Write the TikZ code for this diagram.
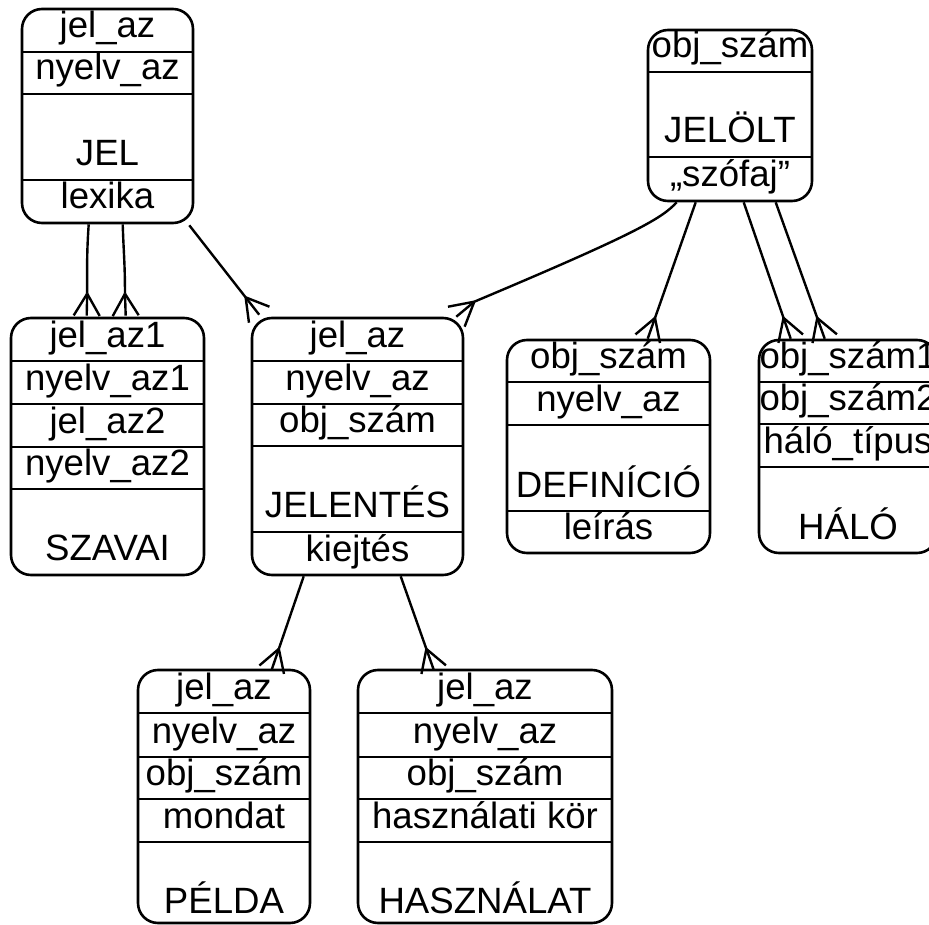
\documentclass[tikz,border=0pt]{standalone}
\usepackage{fontspec}
\setmainfont{Liberation Sans}
\usetikzlibrary{calc}
\tikzset{
  erbox/.style={draw, rounded corners=20pt, line width=2.6pt, inner sep=0pt},
  sepline/.style={line width=2.4pt},
  conn/.style={line width=2.4pt},
  lbl/.style={anchor=base, inner sep=0pt, font=\fontsize{36.6}{40}\selectfont},
}
\newcommand\crowfoot[2]{%
  \draw[conn] (#1) -- (#2);
  \draw[conn] (#1) -- ($(#2)!13pt!90:(#1)$);
  \draw[conn] (#1) -- ($(#2)!13pt!-90:(#1)$);
}
\begin{document}
\begin{tikzpicture}[x=1pt,y=-1pt]
\useasboundingbox (0,0) rectangle (929,925);

% ---------- JEL ----------
\node[erbox, minimum width=171, minimum height=214] (jel) at (107.5,116) {};
\draw[sepline] (22,52) -- (193,52);
\draw[sepline] (22,94) -- (193,94);
\draw[sepline] (22,180) -- (193,180);
\node[lbl] (jel1) at (107.5,38) {jel\_az};
\node[lbl] (jel2) at (107.5,80) {nyelv\_az};
\node[lbl] (jel3) at (107.5,166) {JEL};
\node[lbl] (jel4) at (107.5,209) {lexika};

% ---------- SZAVAI ----------
\node[erbox, minimum width=193, minimum height=257] (szavai) at (107.5,446.5) {};
\draw[sepline] (11,361) -- (204,361);
\draw[sepline] (11,404) -- (204,404);
\draw[sepline] (11,447) -- (204,447);
\draw[sepline] (11,489) -- (204,489);
\node[lbl] (sz1) at (107.5,347) {jel\_az1};
\node[lbl] (sz2) at (107.5,390) {nyelv\_az1};
\node[lbl] (sz3) at (107.5,433) {jel\_az2};
\node[lbl] (sz4) at (107.5,475) {nyelv\_az2};
\node[lbl] (sz5) at (107.5,560) {SZAVAI};

% ---------- JELENTÉS ----------
\node[erbox, minimum width=211, minimum height=257] (jelentes) at (357.5,446.5) {};
\draw[sepline] (252,361) -- (463,361);
\draw[sepline] (252,404) -- (463,404);
\draw[sepline] (252,446) -- (463,446);
\draw[sepline] (252,532) -- (463,532);
\node[lbl] (je1) at (357.5,347) {jel\_az};
\node[lbl] (je2) at (357.5,390) {nyelv\_az};
\node[lbl] (je3) at (357.5,432) {obj\_szám};
\node[lbl] (je4) at (357.5,517) {JELENTÉS};
\node[lbl] (je5) at (357.5,561) {kiejtés};

% ---------- JELÖLT ----------
\node[erbox, minimum width=164, minimum height=171] (jelolt) at (730,115.5) {};
\draw[sepline] (648,72) -- (812,72);
\draw[sepline] (648,157) -- (812,157);
\node[lbl] (jo1) at (730,58) {obj\_szám};
\node[lbl] (jo2) at (730,143) {JELÖLT};
\node[lbl] (jo3) at (730,187) {„szófaj”};

% ---------- DEFINÍCIÓ ----------
\node[erbox, minimum width=203, minimum height=213] (definicio) at (608.5,446.5) {};
\draw[sepline] (507,382) -- (710,382);
\draw[sepline] (507,425) -- (710,425);
\draw[sepline] (507,511) -- (710,511);
\node[lbl] (de1) at (608.5,368) {obj\_szám};
\node[lbl] (de2) at (608.5,411) {nyelv\_az};
\node[lbl] (de3) at (608.5,497) {DEFINÍCIÓ};
\node[lbl] (de4) at (608.5,539) {leírás};

% ---------- HÁLÓ ----------
\node[erbox, minimum width=178, minimum height=213] (halo) at (848,446.5) {};
\draw[sepline] (759,382) -- (937,382);
\draw[sepline] (759,424) -- (937,424);
\draw[sepline] (759,467) -- (937,467);
\node[lbl] (ha1) at (848,368) {obj\_szám1};
\node[lbl] (ha2) at (848,410) {obj\_szám2};
\node[lbl] (ha3) at (848,453) {háló\_típus};
\node[lbl] (ha4) at (848,539) {HÁLÓ};

% ---------- PÉLDA ----------
\node[erbox, minimum width=172, minimum height=253] (pelda) at (224,796.5) {};
\draw[sepline] (138,713) -- (310,713);
\draw[sepline] (138,757) -- (310,757);
\draw[sepline] (138,799) -- (310,799);
\draw[sepline] (138,842) -- (310,842);
\node[lbl] (pe1) at (224,699) {jel\_az};
\node[lbl] (pe2) at (224,743) {nyelv\_az};
\node[lbl] (pe3) at (224,785) {obj\_szám};
\node[lbl] (pe4) at (224,828) {mondat};
\node[lbl] (pe5) at (224,913) {PÉLDA};

% ---------- HASZNÁLAT ----------
\node[erbox, minimum width=254, minimum height=253] (hasznalat) at (485,796.5) {};
\draw[sepline] (358,713) -- (612,713);
\draw[sepline] (358,757) -- (612,757);
\draw[sepline] (358,799) -- (612,799);
\draw[sepline] (358,842) -- (612,842);
\node[lbl] (hs1) at (485,699) {jel\_az};
\node[lbl] (hs2) at (485,743) {nyelv\_az};
\node[lbl] (hs3) at (485,785) {obj\_szám};
\node[lbl] (hs4) at (485,828) {használati kör};
\node[lbl] (hs5) at (485,913) {HASZNÁLAT};

% ---------- connectors ----------
% JEL -> SZAVAI (two)
\coordinate (s1) at ($(jel.south west)+(68,0)$);
\coordinate (e1) at ($(szavai.north west)+(77,-1)$);
\coordinate (a1) at ($(e1)!22pt!(s1)$);
\draw[conn] (s1) .. controls ($(s1)+(-2,30)$) and ($(a1)+(0,-30)$) .. (a1);
\crowfoot{a1}{e1}

\coordinate (s2) at ($(jel.south west)+(102,0)$);
\coordinate (e2) at ($(szavai.north west)+(116,-1)$);
\coordinate (a2) at ($(e2)!22pt!(s2)$);
\draw[conn] (s2) .. controls ($(s2)+(1,30)$) and ($(a2)+(0,-30)$) .. (a2);
\crowfoot{a2}{e2}

% JEL -> JELENTÉS
\coordinate (s3) at ($(jel.south east)+(-5,1)$);
\coordinate (e3) at ($(jelentes.north west)+(8.5,-2)$);
\coordinate (a3) at ($(e3)!22pt!(s3)$);
\draw[conn] (s3) -- (a3);
\crowfoot{a3}{e3}

% JELÖLT -> JELENTÉS (curved)
\coordinate (s4) at ($(jelolt.south west)+(30,0)$);
\coordinate (e4) at ($(jelentes.north east)+(-8,0)$);
\coordinate (a4) at ($(e4)+(18,-15)$);
\draw[conn] (s4) .. controls (662,218) and (640,232) .. (a4);
\crowfoot{a4}{e4}

% JELÖLT -> DEFINÍCIÓ
\coordinate (s5) at ($(jelolt.south west)+(49,0)$);
\coordinate (e5) at ($(definicio.north west)+(142,0)$);
\coordinate (a5) at ($(e5)!22pt!(s5)$);
\draw[conn] (s5) -- (a5);
\crowfoot{a5}{e5}

% JELÖLT -> HÁLÓ (two)
\coordinate (s6) at ($(jelolt.south west)+(97,0)$);
\coordinate (e6) at ($(halo.north west)+(33,0)$);
\coordinate (a6) at ($(e6)!22pt!(s6)$);
\draw[conn] (s6) -- (a6);
\crowfoot{a6}{e6}

\coordinate (s7) at ($(jelolt.south west)+(129,0)$);
\coordinate (e7) at ($(halo.north west)+(67,0)$);
\coordinate (a7) at ($(e7)!22pt!(s7)$);
\draw[conn] (s7) -- (a7);
\crowfoot{a7}{e7}

% JELENTÉS -> PÉLDA
\coordinate (s8) at ($(jelentes.south west)+(53,0)$);
\coordinate (e8) at ($(pelda.north west)+(135,1)$);
\coordinate (a8) at ($(e8)!22pt!(s8)$);
\draw[conn] (s8) -- (a8);
\crowfoot{a8}{e8}

% JELENTÉS -> HASZNÁLAT
\coordinate (s9) at ($(jelentes.south west)+(150,0)$);
\coordinate (e9) at ($(hasznalat.north west)+(77,1)$);
\coordinate (a9) at ($(e9)!22pt!(s9)$);
\draw[conn] (s9) -- (a9);
\crowfoot{a9}{e9}
\end{tikzpicture}
\end{document}
